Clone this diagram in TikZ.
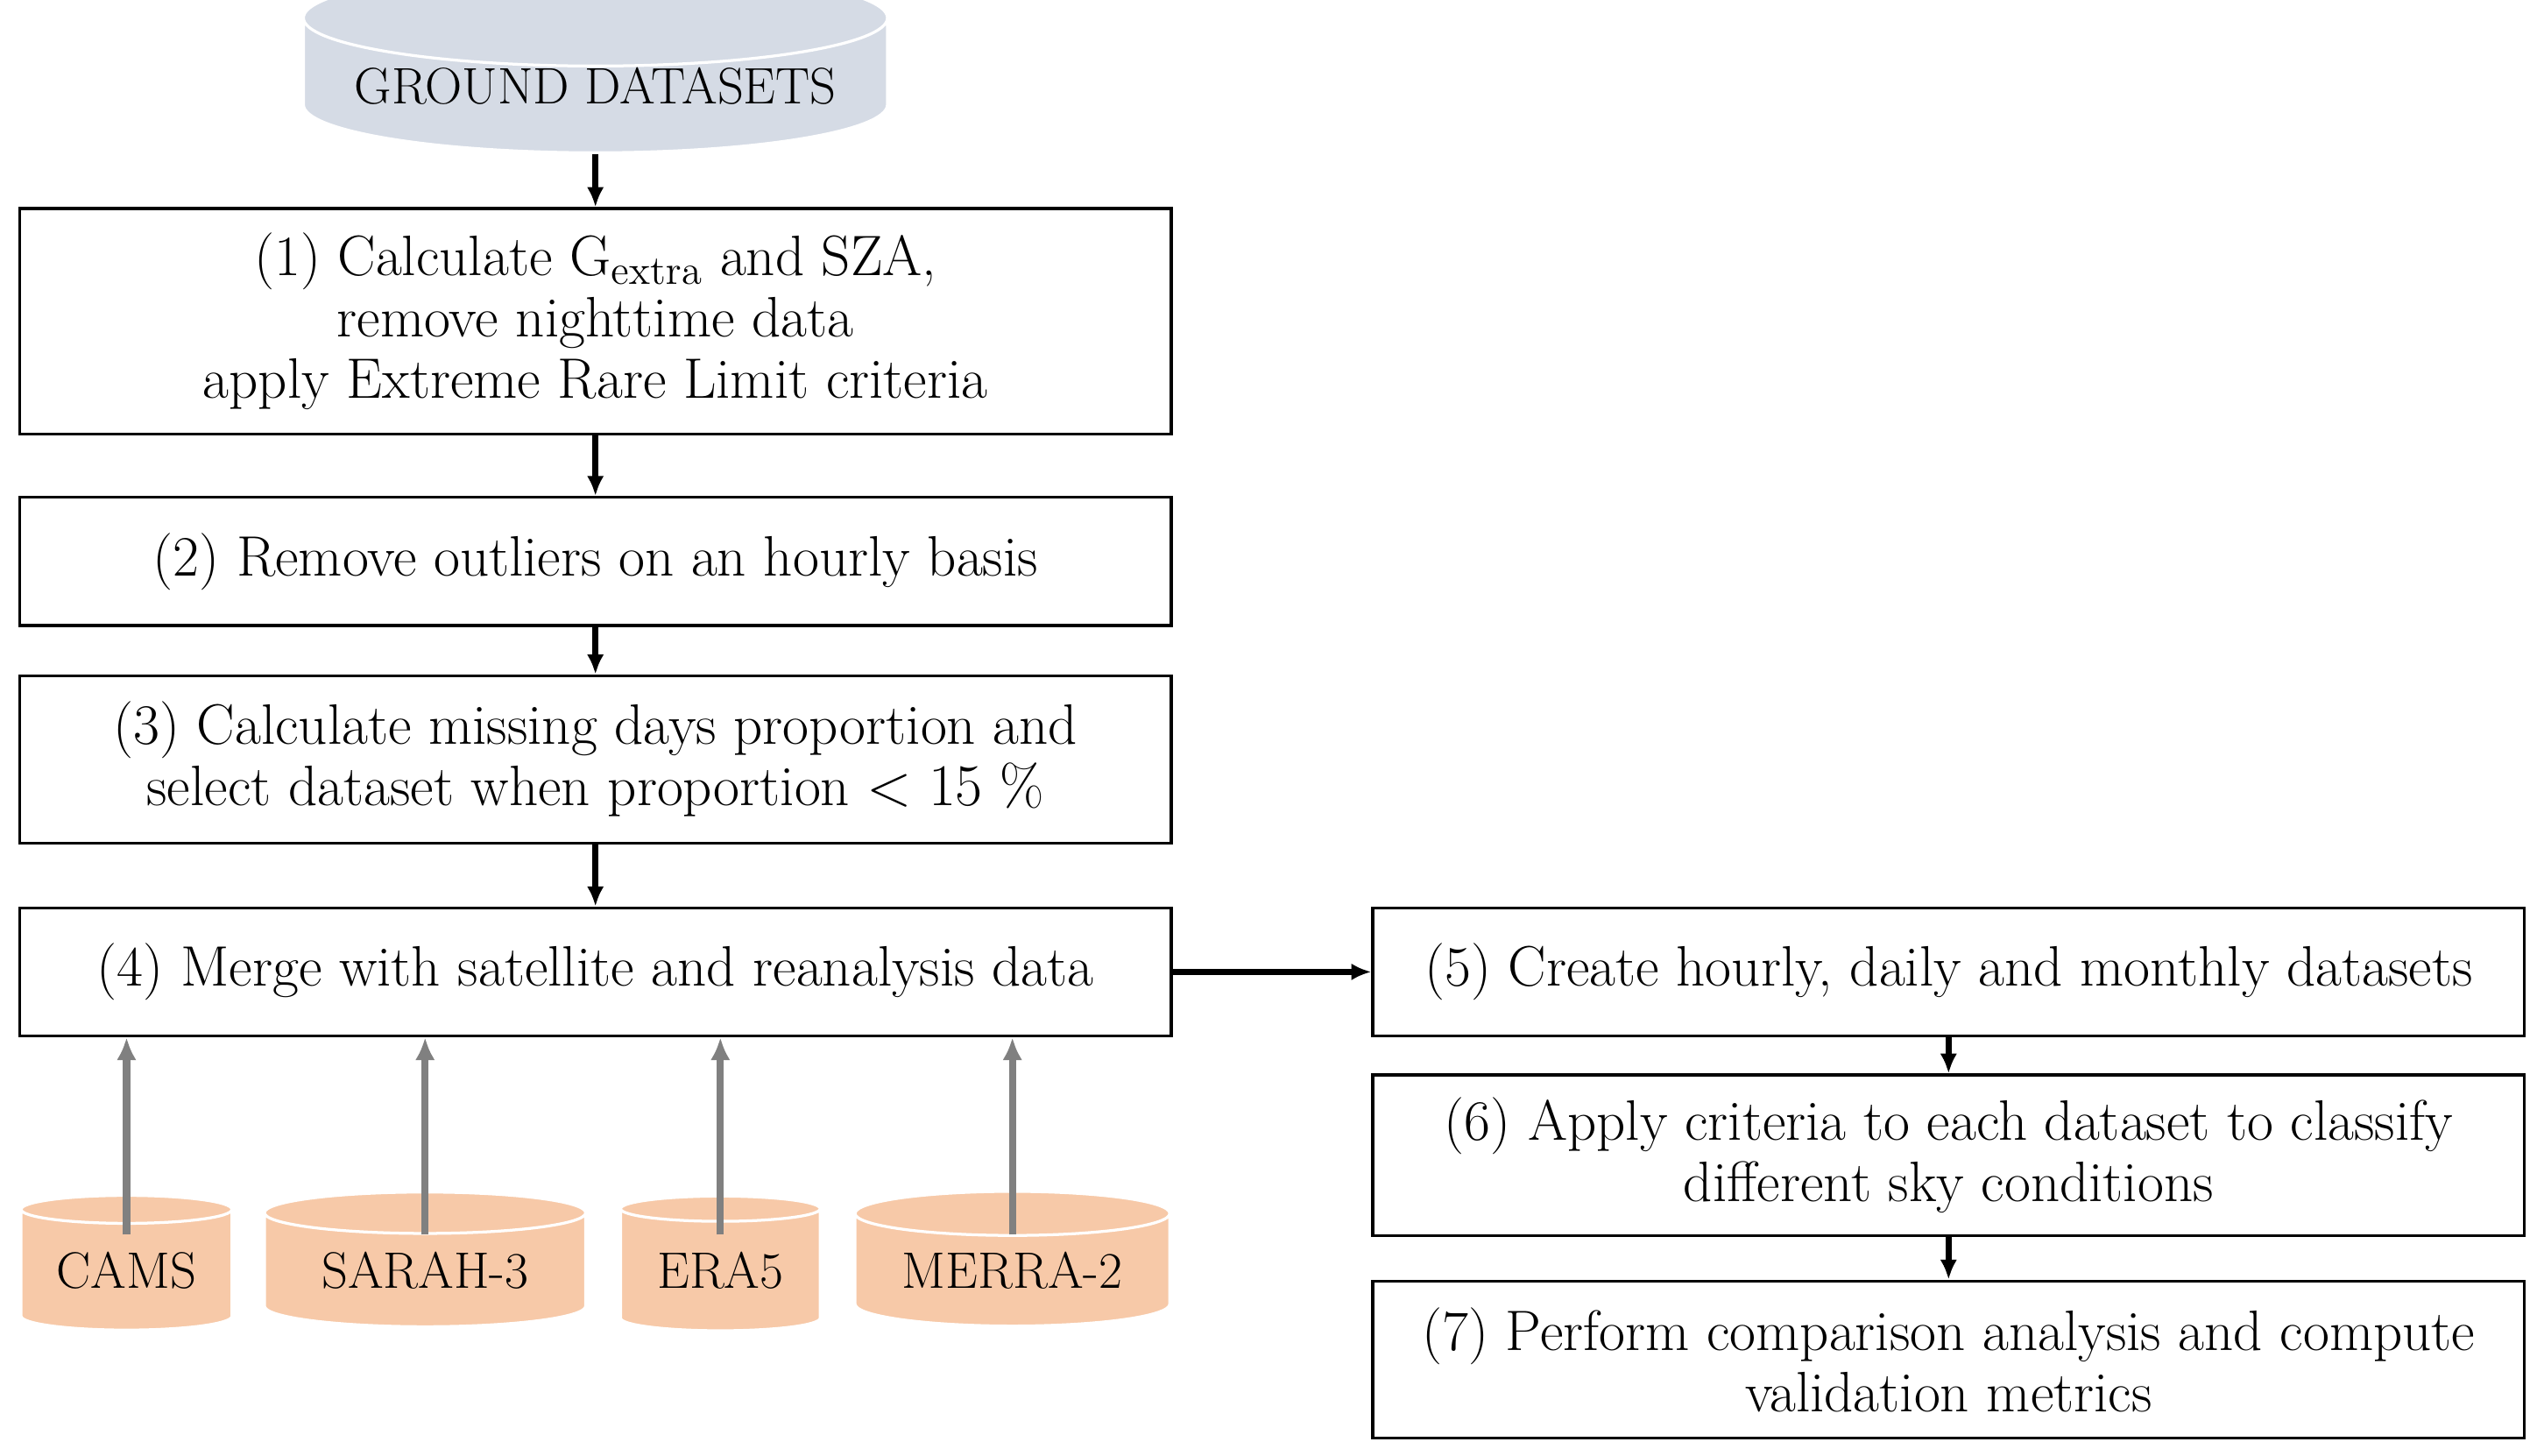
\documentclass[tikz,border=0pt]{standalone}
\usetikzlibrary{shapes.geometric,arrows.meta,calc}
\definecolor{grnd}{HTML}{D5DBE5}
\definecolor{peach}{HTML}{F7C9A8}
\begin{document}
\begin{tikzpicture}[x=0.02cm,y=-0.02cm,
    every node/.style={font=\fontsize{20}{21.5}\selectfont},
    stepbox/.style={draw, line width=1pt, minimum width=14.2cm, align=center, inner sep=0pt},
    db/.style={cylinder, shape border rotate=90, aspect=0.2, draw=white, line width=1pt, fill=peach, inner sep=0pt},
    flow/.style={-{Latex[length=7pt,width=6pt]}, line width=2pt},
    feed/.style={-{Latex[length=8pt,width=7pt]}, line width=2.5pt, gray}]
  \useasboundingbox (0,0) rectangle (1568,897);

  % datasets
  \node[db, fill=grnd, minimum width=7.2cm, minimum height=1.75cm, font=\fontsize{18}{20}\selectfont] (G) at (367,53) {GROUND DATASETS};
  \node[db, minimum width=2.6cm, minimum height=1.66cm, font=\fontsize{18}{20}\selectfont] (C1) at (78,783) {CAMS};
  \node[db, minimum width=3.96cm, minimum height=1.66cm, font=\fontsize{18}{20}\selectfont] (C2) at (262,783) {SARAH-3};
  \node[db, minimum width=2.46cm, minimum height=1.66cm, font=\fontsize{18}{20}\selectfont] (C3) at (444,783) {ERA5};
  \node[db, minimum width=3.88cm, minimum height=1.66cm, font=\fontsize{18}{20}\selectfont] (C4) at (624,783) {MERRA-2};

  % steps
  \node[stepbox, minimum height=2.78cm] (S1) at (367,198) {(1) Calculate G$_{\mathrm{extra}}$ and SZA,\\remove nighttime data\\apply Extreme Rare Limit criteria};
  \node[stepbox, minimum height=1.58cm] (S2) at (367,346) {(2) Remove outliers on an hourly basis};
  \node[stepbox, minimum height=2.06cm] (S3) at (367,468) {(3) Calculate missing days proportion and\\select dataset when proportion $<15$ \%};
  \node[stepbox, minimum height=1.58cm] (S4) at (367,599) {(4) Merge with satellite and reanalysis data};
  \node[stepbox, minimum height=1.58cm] (S5) at (1201,599) {(5) Create hourly, daily and monthly datasets};
  \node[stepbox, minimum height=1.98cm] (S6) at (1201,712) {(6) Apply criteria to each dataset to classify\\different sky conditions};
  \node[stepbox, minimum height=1.94cm] (S7) at (1201,838) {(7) Perform comparison analysis and compute\\validation metrics};

  % arrows
  \draw[flow] (G) -- (S1);
  \draw[flow] (S1) -- (S2);
  \draw[flow] (S2) -- (S3);
  \draw[flow] (S3) -- (S4);
  \draw[flow] (S4) -- (S5);
  \draw[flow] (S5) -- (S6);
  \draw[flow] (S6) -- (S7);
  \foreach \c in {C1,C2,C3,C4}
    \draw[feed] ($(\c.center)+(0,-22)$) -- (\c.center |- S4.south);
\end{tikzpicture}
\end{document}
